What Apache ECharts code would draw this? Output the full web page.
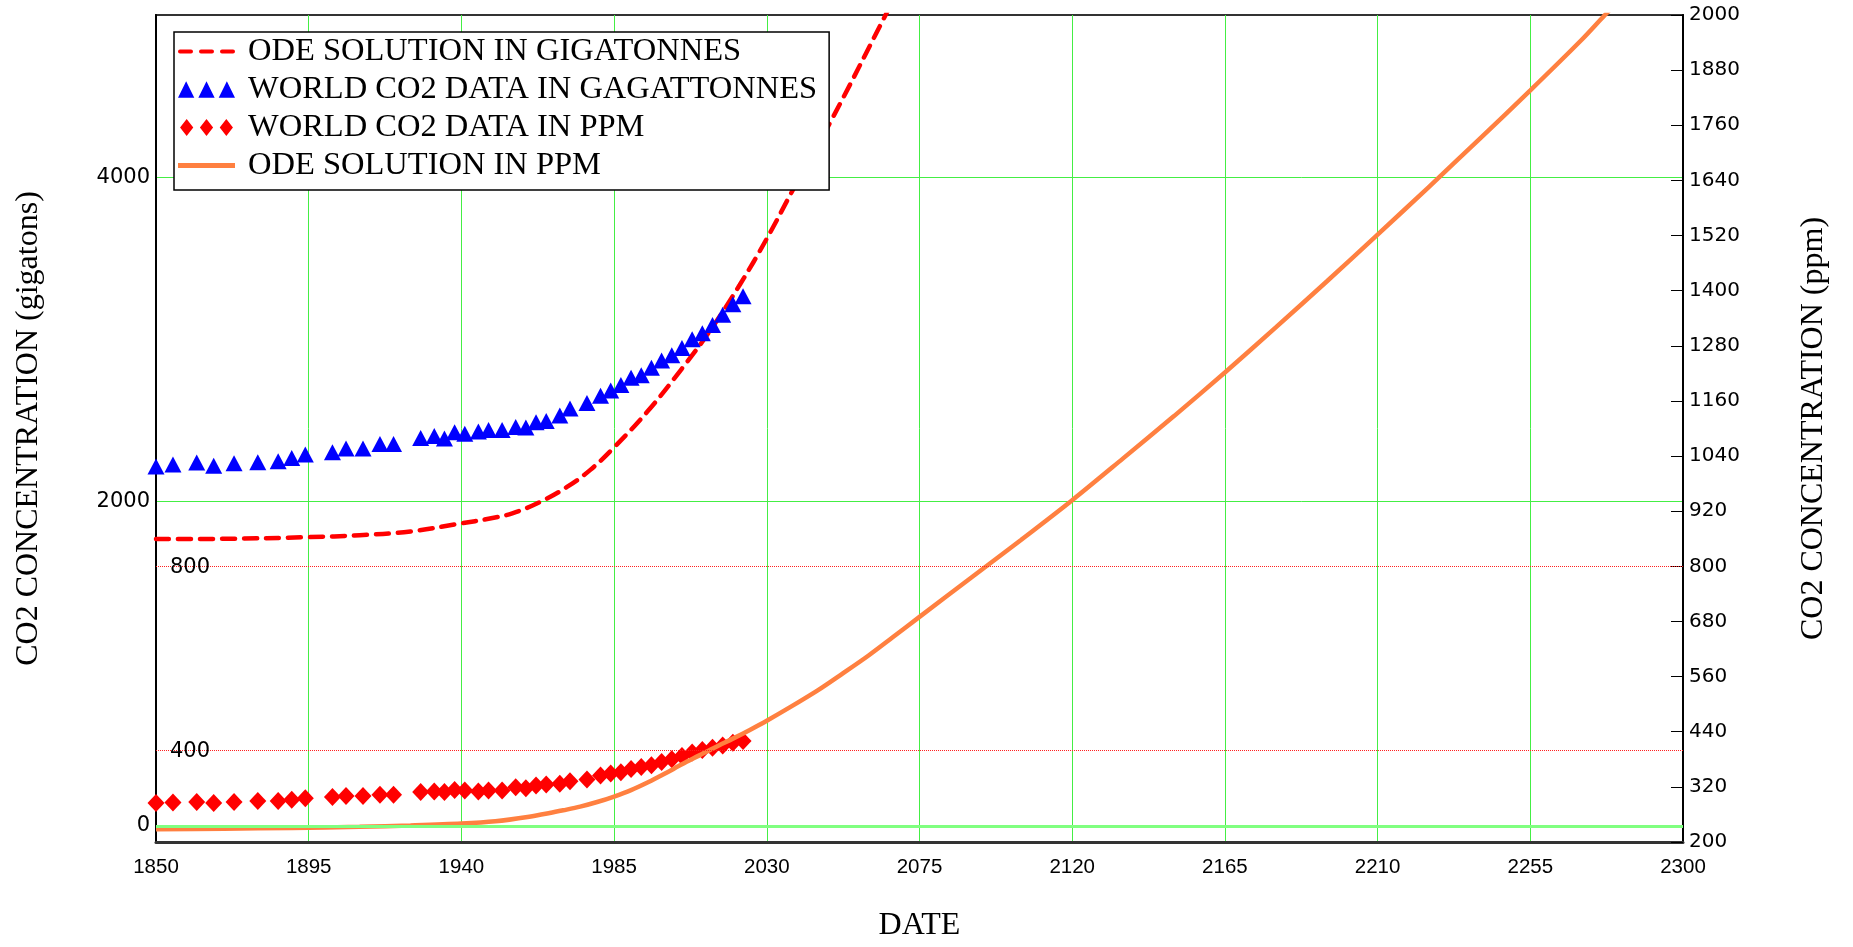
<!DOCTYPE html>
<html>
<head>
<meta charset="utf-8">
<script src="https://cdn.jsdelivr.net/npm/echarts@6/dist/echarts.min.js"></script>
<style>
html,body{margin:0;padding:0;background:#fff}
#c{width:1853px;height:947px}
</style>
</head>
<body>
<div id="c"></div>
<script>
// ---- tick labels ----
const xTicks = [1850,1895,1940,1985,2030,2075,2120,2165,2210,2255,2300];
const gtTicks = [0,2000,4000];
const ppmTicks = [200,320,440,560,680,800,920,1040,1160,1280,1400,1520,1640,1760,1880,2000];
const ppmRefLines = [400, 800];

// ---- series names ----
const seriesNames = [
  'ODE SOLUTION IN GIGATONNES',
  'WORLD CO2 DATA IN GAGATTONNES',
  'WORLD CO2 DATA IN PPM',
  'ODE SOLUTION IN PPM'
];

// ---- observed data ----
const dataYears = [1850,1855,1862,1867,1873,1880,1886,1890,1894,1902,1906,1911,1916,1920,1928,1932,1935,1938,1941,
  1945,1948,1952,1956,1959,1962,1965,1969,1972,1977,1981,1984,1987,1990,1993,1996,1999,2002,2005,2008,2011,2014,2017,2020,2023];
const co2Gt = [2215,2228,2240,2221,2235,2242,2248,2268,2289,2303,2327,2326,2354,2354,2391,2403,2389,2427,2418,
  2432,2440,2440,2460,2456,2489,2497,2530,2574,2607,2652,2685,2718,2763,2779,2824,2869,2902,2947,3000,3037,3089,3151,3216,3265];
const co2Ppm = [285,286,287,285,287,289,289,292,295,298,300,300,303,303,309,310,309,313,312,
  310,312,312,319,317,323,325,327,332,336,345,349,352,359,363,367,374,380,387,395,400,405,410,416,420];

// ---- ODE solutions ----
const odeGtYears = [1850,1870,1895,1910,1925,1940,1948,1955,1963,1971,1978,1985,1995,2005,2013,2022,2030,2038,2049,2065,2070];
const odeGt = [1768,1770,1780,1792,1815,1865,1893,1927,1995,2088,2195,2334,2559,2820,3045,3335,3621,3933,4350,5000,5210];
const odePpmYears = [1850,1870,1890,1910,1925,1940,1950,1960,1966,1970,1975,1980,1985,1990,1995,2000,2005,2010,2015,2020,2025,2030,2037,2045,2052,2060,2067,2075,2090,2105,2120,2135,2150,2165,2180,2195,2210,2225,2240,2255,2270,2277,2285];
const odePpm = [228,229,230.5,233,236,240,245,255,263,269,277,287,299,313,330,349,369,388,407,425,444,464,494,530,565,606,645,690,774,858,944,1035,1127,1222,1320,1420,1522,1625,1730,1836,1945,2000,2060];

const zip = (xs, ys) => xs.map((x, i) => [x, ys[i]]);

const chart = echarts.init(document.getElementById('c'));
const GREEN = '#44ee44';
const labelFont = 'DejaVu Sans';
const serif = 'Liberation Serif';

chart.setOption({
  backgroundColor: '#fff',
  animation: false,
  grid: { left: 156, right: 170, top: 15, bottom: 100, show: true, borderColor: '#333', borderWidth: 2, backgroundColor: 'transparent' },
  legend: {
    orient: 'vertical', left: 174, top: 32,
    itemWidth: 57, itemHeight: 17, itemGap: 5,
    padding: [3, 12, 8, 4],
    borderColor: '#000', borderWidth: 1.5, backgroundColor: '#fff',
    selectedMode: false,
    textStyle: { fontFamily: serif, fontSize: 32.5, color: '#000', lineHeight: 31, padding: [0, 0, 0, 8] },
    data: [
      { name: seriesNames[0], icon: 'path://M2,0h11a2,2 0 0 1 0,4h-11a2,2 0 0 1 0,-4zM23,0h11a2,2 0 0 1 0,4h-11a2,2 0 0 1 0,-4zM44,0h11a2,2 0 0 1 0,4h-11a2,2 0 0 1 0,-4z' },
      { name: seriesNames[1], icon: 'path://M0,16L8,0L16,16ZM20,16L28,0L36,16ZM40,16L48,0L56,16Z' },
      { name: seriesNames[2], icon: 'path://M0,9L7,0L14,9L7,18ZM21,9L28,0L35,9L28,18ZM42,9L49,0L56,9L49,18Z' },
      { name: seriesNames[3], icon: 'path://M0,0h57v5h-57z' }
    ]
  },
  xAxis: {
    type: 'value', min: 1850, max: 2300, interval: 45,
    name: 'DATE', nameLocation: 'middle', nameGap: 68,
    nameTextStyle: { fontFamily: serif, fontSize: 32, color: '#000' },
    axisLine: { show: true, onZero: false, lineStyle: { color: '#333', width: 3 } },
    axisTick: { show: false, customValues: xTicks },
    axisLabel: { customValues: xTicks, formatter: v => String(v), fontFamily: 'Liberation Sans', fontSize: 20.5, color: '#000', margin: 15 },
    splitLine: { show: true, lineStyle: { color: GREEN, width: 1 } }
  },
  yAxis: [
    {
      type: 'value', min: -100, max: 5000, position: 'left',
      name: 'CO2 CONCENTRATION (gigatons)', nameLocation: 'middle', nameRotate: 90, nameGap: 111,
      nameTextStyle: { fontFamily: serif, fontSize: 32, color: '#000' },
      axisLine: { show: true, lineStyle: { color: '#000', width: 2 } },
      axisTick: { show: false, customValues: gtTicks },
      axisLabel: { customValues: gtTicks, formatter: v => String(v), fontFamily: labelFont, fontSize: 21, color: '#000', margin: 6 },
      splitLine: { show: true, lineStyle: { color: GREEN, width: 1 } }
    },
    {
      type: 'value', min: 200, max: 2000, interval: 120, position: 'right',
      name: 'CO2 CONCENTRATION (ppm)', nameLocation: 'middle', nameRotate: 90, nameGap: 115,
      nameTextStyle: { fontFamily: serif, fontSize: 32, color: '#000' },
      axisLine: { show: true, lineStyle: { color: '#000', width: 2 } },
      axisTick: { show: true, inside: true, length: 12, customValues: ppmTicks, lineStyle: { color: '#000', width: 1 } },
      axisLabel: { customValues: ppmTicks, formatter: v => String(v), fontFamily: labelFont, fontSize: 20, color: '#000', margin: 6 },
      splitLine: { show: false }
    }
  ],
  series: [
    {
      name: seriesNames[0], type: 'line', yAxisIndex: 0,
      data: zip(odeGtYears, odeGt), smooth: 0.4, symbol: 'none', showSymbol: false,
      itemStyle: { color: '#ff0000' },
      lineStyle: { color: '#ff0000', width: 4.5, type: [13, 9], cap: 'round' },
      markLine: {
        silent: true, symbol: 'none', animation: false,
        label: { show: false },
        lineStyle: { color: '#80ff80', width: 3, type: 'solid' },
        data: [{ yAxis: 0 }]
      },
      z: 2
    },
    {
      name: seriesNames[1], type: 'scatter', yAxisIndex: 0,
      data: zip(dataYears, co2Gt), symbol: 'triangle', symbolSize: [17, 16],
      itemStyle: { color: '#0000ff', opacity: 1 }, z: 3
    },
    {
      name: seriesNames[2], type: 'scatter', yAxisIndex: 1,
      data: zip(dataYears, co2Ppm), symbol: 'diamond', symbolSize: [17, 18],
      itemStyle: { color: '#ff0000', opacity: 1 }, z: 3,
      markLine: {
        silent: true, symbol: 'none', animation: false,
        lineStyle: { color: '#ff2020', width: 1, type: [1, 1] },
        label: { show: true, position: 'insideStartTop', distance: [14, -12], fontFamily: labelFont, fontSize: 21, color: '#000',
          formatter: p => String(p.value) },
        data: ppmRefLines.map(v => ({ yAxis: v }))
      }
    },
    {
      name: seriesNames[3], type: 'line', yAxisIndex: 1,
      data: zip(odePpmYears, odePpm), smooth: 0.3, symbol: 'none', showSymbol: false,
      itemStyle: { color: '#ff8040' },
      lineStyle: { color: '#ff8040', width: 4.5 }, z: 4
    }
  ]
});
</script>
</body>
</html>
